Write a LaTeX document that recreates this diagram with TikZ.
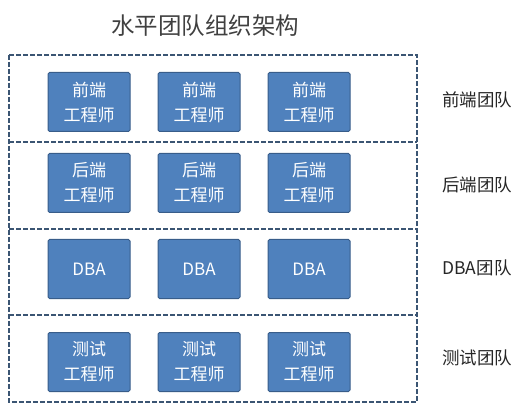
\documentclass[tikz,border=0pt]{standalone}
\usepackage{fontspec}
\setmainfont{Noto Sans CJK SC}
\usetikzlibrary{positioning}
\definecolor{boxblue}{HTML}{4F81BD}
\definecolor{boxedge}{HTML}{385D8A}
\definecolor{bandline}{HTML}{3B5573}

\begin{document}
\begin{tikzpicture}[x=1pt,y=-1pt,
    member/.style={draw=boxedge,fill=boxblue,line width=1pt,rounded corners=1.5pt,
        minimum width=82pt,minimum height=59pt,inner sep=0pt,
        text=white,align=center,font=\fontsize{17}{25}\selectfont},
    band/.style={draw=bandline,line width=1.3pt,dash pattern=on 5pt off 2pt},
    teamname/.style={font=\fontsize{17.5}{20}\selectfont,text=black!85}]
    \useasboundingbox (0,0) rectangle (525,414);
    \node [font=\fontsize{23.5}{26}\selectfont,text=black!75] (title) at (205,26) {水平团队组织架构};
    % team bands
    \coordinate (tl) at (9,55);
    \coordinate (br) at (417,402);
    \draw [band] (tl) rectangle (br);
    \draw [band] (9,142) -- (417,142);
    \draw [band] (9,229) -- (417,229);
    \draw [band] (9,315) -- (417,315);
    % front end
    \node [member] (fe1) at (89,102) {前端\\工程师};
    \node [member,right=27pt of fe1] (fe2) {前端\\工程师};
    \node [member,right=27pt of fe2] (fe3) {前端\\工程师};
    \node [teamname] (feteam) at (477,100) {前端团队};
    % back end
    \node [member] (be1) at (89,183) {后端\\工程师};
    \node [member,right=27pt of be1] (be2) {后端\\工程师};
    \node [member,right=27pt of be2] (be3) {后端\\工程师};
    \node [teamname] (beteam) at (477,185) {后端团队};
    % dba
    \node [member] (dba1) at (89,269) {DBA};
    \node [member,right=27pt of dba1] (dba2) {DBA};
    \node [member,right=27pt of dba2] (dba3) {DBA};
    \node [teamname] (dbateam) at (477,268) {DBA团队};
    % test
    \node [member] (qa1) at (89,362) {测试\\工程师};
    \node [member,right=27pt of qa1] (qa2) {测试\\工程师};
    \node [member,right=27pt of qa2] (qa3) {测试\\工程师};
    \node [teamname] (qateam) at (477,358) {测试团队};
\end{tikzpicture}
\end{document}
